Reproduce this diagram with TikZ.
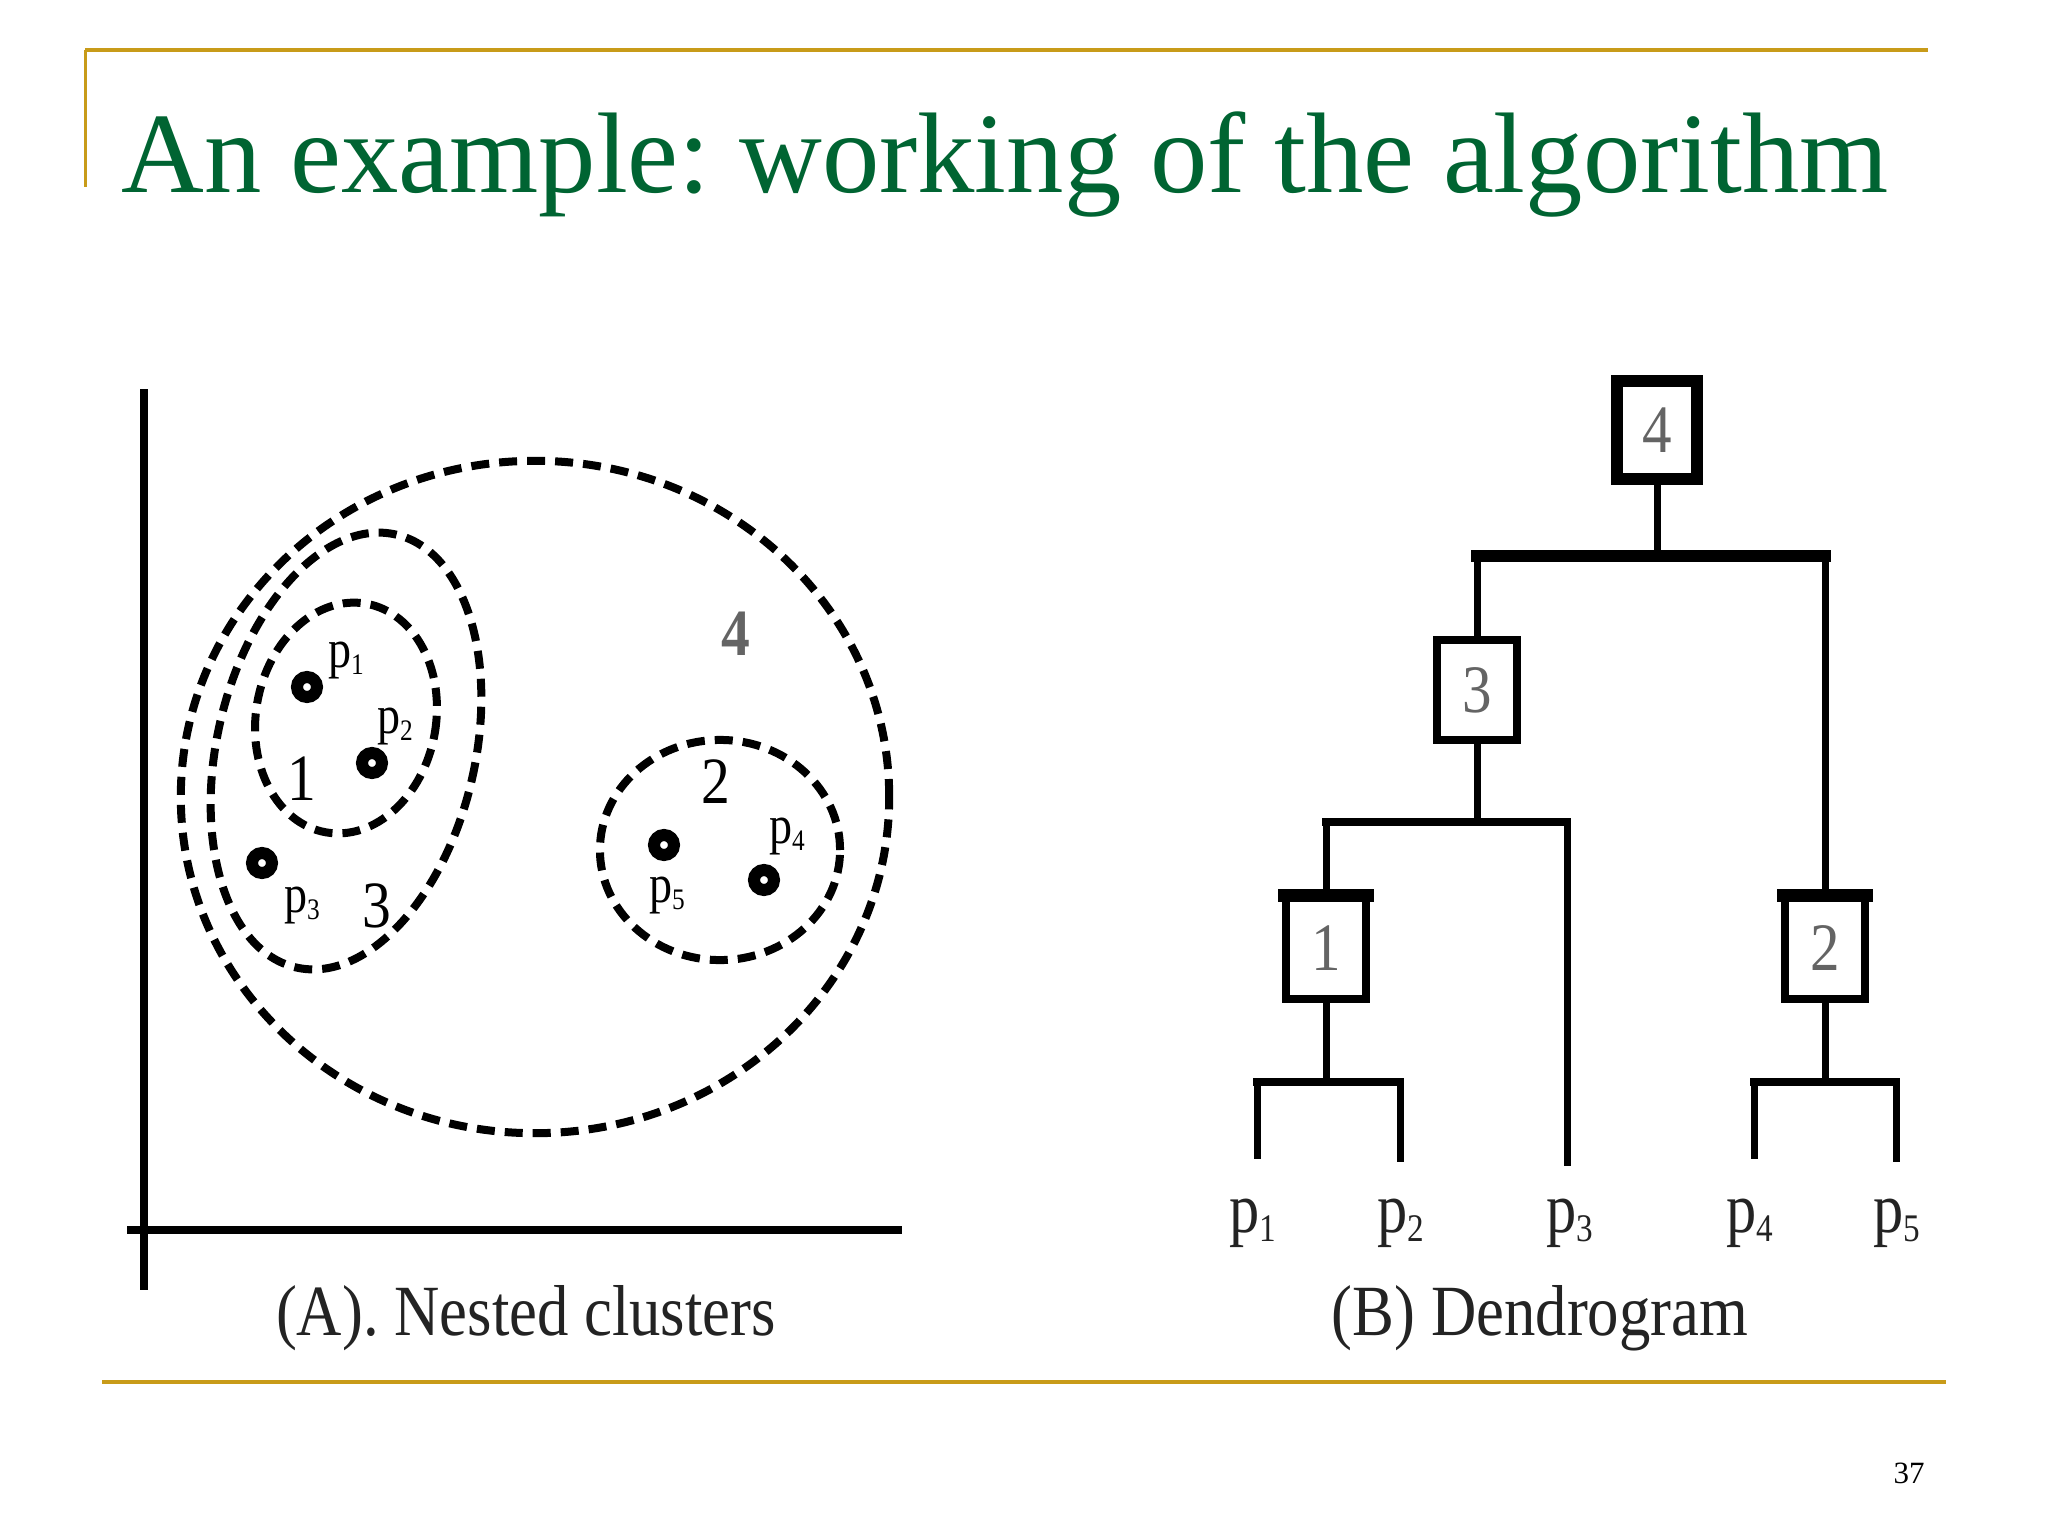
\documentclass[tikz,border=0pt]{standalone}
\usepackage{fontspec}
\setmainfont{Liberation Serif}
\frenchspacing
\definecolor{titlegreen}{RGB}{0,100,50}
\definecolor{goldline}{RGB}{200,155,25}
\definecolor{boxgray}{RGB}{100,100,100}
\definecolor{capgray}{RGB}{35,35,35}
\newcommand\pn[1]{p\raisebox{-0.14em}{\scalebox{0.55}{#1}}}
\newcommand\fs[1]{\fontsize{#1}{#1}\selectfont}
\tikzset{
  clus/.style={draw, line width=0.08cm, dash pattern=on 0.18cm off 0.10cm},
  axisline/.style={line width=0.08cm},
  ptdot/.style={circle, draw, line width=0.12cm, minimum size=0.20cm, inner sep=0pt},
  tree/.style={line width=0.07cm},
  bar/.style={line width=0.08cm, line cap=rect},
  dbox/.style={draw, line width=0.08cm, minimum width=0.92cm, minimum height=1.01cm, inner sep=0pt, text=boxgray, font=\fs{19.3pt}, xscale=0.87},
  plabel/.style={anchor=base, font=\fs{15.4pt}, xscale=0.85, inner sep=0pt},
  nlabel/.style={anchor=base, font=\fs{18.8pt}, xscale=0.87, inner sep=0pt},
  leaflabel/.style={anchor=base, font=\fs{20.2pt}, xscale=0.85, inner sep=0pt, text=capgray},
  caption/.style={anchor=base, font=\fs{20.5pt}, xscale=0.87, inner sep=0pt, text=capgray},
}
\begin{document}
\begin{tikzpicture}[x=0.01cm, y=0.01cm]
\fill[white] (0,0) rectangle (2048,-1536);
\useasboundingbox (0,0) rectangle (2048,-1536);

% frame lines
\draw[goldline, line width=0.04cm] (85,-50) -- (1928,-50);
\draw[goldline, line width=0.03cm] (85,-50) -- (85,-187);
\draw[goldline, line width=0.04cm] (102,-1382) -- (1946,-1382);

% title
\node[anchor=base west, inner sep=0pt, text=titlegreen, font=\fs{32.6pt}] (title) at (121,-192) {An example: working of the algorithm};

% page number
\node[anchor=base, inner sep=0pt, font=\fs{8.8pt}] (pnum) at (1909,-1483) {37};

% ---------- (A) nested clusters ----------
\draw[axisline] (144,-389) -- (144,-1290);
\draw[axisline] (127,-1230) -- (902,-1230);

\draw[clus] (535,-797) ellipse [x radius=3.54cm, y radius=3.36cm];
\draw[clus] (346,-751) ellipse [x radius=1.29cm, y radius=2.22cm, rotate=-13];
\draw[clus] (346,-718) ellipse [x radius=0.90cm, y radius=1.16cm, rotate=-10];
\draw[clus] (720,-850) ellipse [x radius=1.20cm, y radius=1.10cm];

\node[ptdot] (d1) at (307,-687) {};
\node[ptdot] (d2) at (372,-763) {};
\node[ptdot] (d3) at (262,-863) {};
\node[ptdot] (d5) at (664,-845) {};
\node[ptdot] (d4) at (764,-880) {};

\node[plabel] (lp1) at (346,-667) {\pn{1}};
\node[plabel] (lp2) at (395,-733) {\pn{2}};
\node[plabel] (lp3) at (302,-912) {\pn{3}};
\node[plabel] (lp4) at (787,-843) {\pn{4}};
\node[plabel] (lp5) at (667,-902) {\pn{5}};

\node[nlabel] (n1) at (302,-800) {1};
\node[nlabel] (n3) at (377,-927) {3};
\node[nlabel] (n2) at (716,-803) {2};
\node[nlabel, text=boxgray, font=\fs{18.8pt}\bfseries] (n4) at (736,-655) {4};

\node[caption] (capA) at (526,-1335) {(A). Nested clusters};

% ---------- (B) dendrogram ----------
\node[dbox, line width=0.12cm, minimum height=0.97cm] (b4) at (1657,-430) {4};
\node[dbox, minimum height=1.00cm] (b3) at (1477,-690) {3};
\node[dbox] (b1) at (1326,-948) {1};
\node[dbox] (b2) at (1825,-948) {2};
\draw[line width=0.13cm] ([shift={(-4,-2.5)}]b1.north west) -- ([shift={(4,-2.5)}]b1.north east);
\draw[line width=0.13cm] ([shift={(-4,-2.5)}]b2.north west) -- ([shift={(4,-2.5)}]b2.north east);

\coordinate (j4) at (1657,-556);
\coordinate (j3) at (1483,-822);
\coordinate (j1) at (1329,-1082);
\coordinate (j2) at (1826,-1082);
\coordinate (leaf1) at (1257,-1159);
\coordinate (leaf2) at (1400,-1162);
\coordinate (leaf3) at (1567,-1166);
\coordinate (leaf4) at (1754,-1159);
\coordinate (leaf5) at (1896,-1162);

\draw[tree] (b4.south) -- (j4);
\draw[line width=0.12cm, line cap=rect] (b3 |- j4) -- (b2 |- j4);
\draw[tree] (b3 |- j4) -- (b3.north);
\draw[tree] (b2 |- j4) -- (b2.north);

\draw[tree] (b3.south) -- (b3 |- j3);
\draw[bar] (b1 |- j3) -- (leaf3 |- j3);
\draw[tree] (b1 |- j3) -- (b1.north);
\draw[tree] (leaf3 |- j3) -- (leaf3);

\draw[tree] (b1.south) -- (b1 |- j1);
\draw[bar] (leaf1 |- j1) -- (leaf2 |- j1);
\draw[tree] (leaf1 |- j1) -- (leaf1);
\draw[tree] (leaf2 |- j1) -- (leaf2);

\draw[tree] (b2.south) -- (b2 |- j2);
\draw[bar] (leaf4 |- j2) -- (leaf5 |- j2);
\draw[tree] (leaf4 |- j2) -- (leaf4);
\draw[tree] (leaf5 |- j2) -- (leaf5);

\node[leaflabel] (t1) at (1253,-1232) {\pn{1}};
\node[leaflabel] (t2) at (1401,-1232) {\pn{2}};
\node[leaflabel] (t3) at (1570,-1232) {\pn{3}};
\node[leaflabel] (t4) at (1750,-1232) {\pn{4}};
\node[leaflabel] (t5) at (1897,-1232) {\pn{5}};

\node[caption] (capB) at (1540,-1335) {(B) Dendrogram};
\end{tikzpicture}
\end{document}
